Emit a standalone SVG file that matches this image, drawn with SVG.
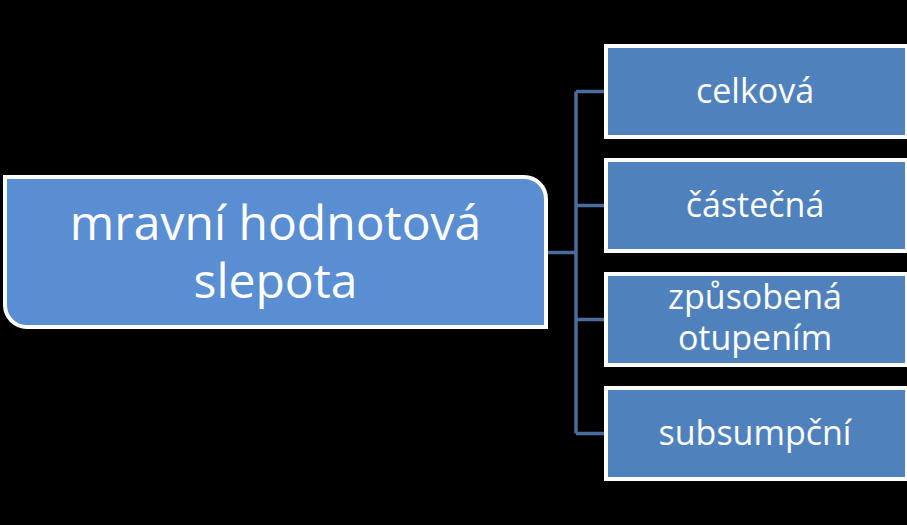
<svg xmlns="http://www.w3.org/2000/svg" width="907" height="525" viewBox="0 0 907 525">
<style>
.bg{fill:#000}
.conn{fill:none;stroke:#4A6C9C;stroke-width:3.5}
.main{fill:#5A8ED2;stroke:#fff;stroke-width:4}
.box{fill:#4F81BD;stroke:#fff;stroke-width:4}
text{font-family:"Open Sans","DejaVu Sans",sans-serif;fill:#fff;text-anchor:middle}
.t1{font-size:48px}
.t2{font-size:34px}
</style>
<rect class="bg" x="0" y="0" width="907" height="525"/>
<g id="connectors">
<path class="conn" d="M548,252.5 H576 M576,91.5 V433.5 M576,91.5 H604 M576,205.5 H604 M576,319.5 H604 M576,433.5 H604"/>
</g>
<g id="node-main">
<path class="main" d="M5,177 H524 A22,22 0 0 1 546,199 V327 H27 A22,22 0 0 1 5,305 Z"/>
<text class="t1" x="275.5" y="240">mravní hodnotová</text>
<text class="t1" x="275.5" y="298">slepota</text>
</g>
<g id="node-celkova">
<rect class="box" x="606" y="46" width="301" height="91"/>
<text class="t2" x="755" y="103">celková</text>
</g>
<g id="node-castecna">
<rect class="box" x="606" y="160" width="301" height="91"/>
<text class="t2" x="755" y="217">částečná</text>
</g>
<g id="node-zpusobena">
<rect class="box" x="606" y="274" width="301" height="91"/>
<text class="t2" x="755" y="309">způsobená</text>
<text class="t2" x="755" y="350">otupením</text>
</g>
<g id="node-subsumpcni">
<rect class="box" x="606" y="388" width="301" height="91"/>
<text class="t2" x="755" y="445">subsumpční</text>
</g>
</svg>
